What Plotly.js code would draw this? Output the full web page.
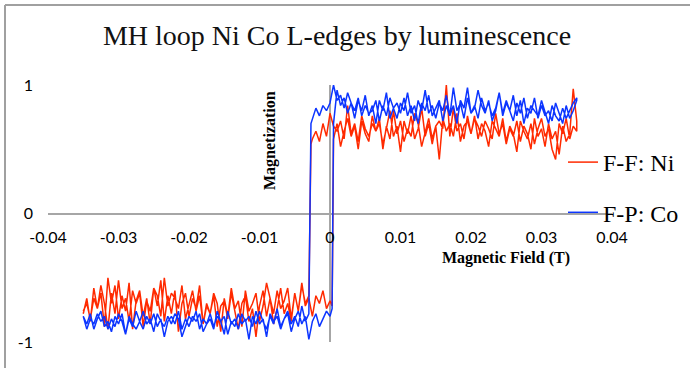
<!DOCTYPE html>
<html>
<head>
<meta charset="utf-8">
<script src="https://cdn.plot.ly/plotly-3.0.1.min.js"></script>
<style>html,body{margin:0;padding:0;background:#fff;}#chart{width:690px;height:368px;}</style>
</head>
<body>
<div id="chart"></div>
<script>
// Magnetic field sweep (T): increasing sweep, then decreasing sweep
var fieldUp = [
-0.035,-0.0345,-0.034,-0.0335,-0.033,-0.0325,-0.032,-0.0315,-0.031,-0.0305,
-0.03,-0.0295,-0.029,-0.0285,-0.028,-0.0275,-0.027,-0.0265,-0.026,-0.0255,
-0.025,-0.0245,-0.024,-0.0235,-0.023,-0.0225,-0.022,-0.0215,-0.021,-0.0205,
-0.02,-0.0195,-0.019,-0.0185,-0.018,-0.0175,-0.017,-0.0165,-0.016,-0.0155,
-0.015,-0.0145,-0.014,-0.0135,-0.013,-0.0125,-0.012,-0.0115,-0.011,-0.0105,
-0.01,-0.0095,-0.009,-0.0085,-0.008,-0.0075,-0.007,-0.0065,-0.006,-0.0055,
-0.005,-0.0045,-0.004,-0.0035,-0.003,-0.0025,-0.002,-0.0015,-0.001,-0.0005,
0,0.0003,
0.0005,0.001,0.0015,0.002,0.0025,0.003,0.0035,0.004,0.0045,0.005,
0.0055,0.006,0.0065,0.007,0.0075,0.008,0.0085,0.009,0.0095,0.01,
0.0105,0.011,0.0115,0.012,0.0125,0.013,0.0135,0.014,0.0145,0.015,
0.0155,0.016,0.0165,0.017,0.0175,0.018,0.0185,0.019,0.0195,0.02,
0.0205,0.021,0.0215,0.022,0.0225,0.023,0.0235,0.024,0.0245,0.025,
0.0255,0.026,0.0265,0.027,0.0275,0.028,0.0285,0.029,0.0295,0.03,
0.0305,0.031,0.0315,0.032,0.0325,0.033,0.0335,0.034,0.0345,0.035
];
var fieldDown = [
0.035,0.0345,0.034,0.0335,0.033,0.0325,0.032,0.0315,0.031,0.0305,
0.03,0.0295,0.029,0.0285,0.028,0.0275,0.027,0.0265,0.026,0.0255,
0.025,0.0245,0.024,0.0235,0.023,0.0225,0.022,0.0215,0.021,0.0205,
0.02,0.0195,0.019,0.0185,0.018,0.0175,0.017,0.0165,0.016,0.0155,
0.015,0.0145,0.014,0.0135,0.013,0.0125,0.012,0.0115,0.011,0.0105,
0.01,0.0095,0.009,0.0085,0.008,0.0075,0.007,0.0065,0.006,0.0055,
0.005,0.0045,0.004,0.0035,0.003,0.0025,0.002,0.0015,0.001,0.0005,
0,-0.0005,-0.001,-0.0015,-0.002,-0.0025,-0.0027,
-0.003,-0.0035,-0.004,-0.0045,-0.005,-0.0055,-0.006,-0.0065,-0.007,-0.0075,
-0.008,-0.0085,-0.009,-0.0095,-0.01,-0.0105,-0.011,-0.0115,-0.012,-0.0125,
-0.013,-0.0135,-0.014,-0.0145,-0.015,-0.0155,-0.016,-0.0165,-0.017,-0.0175,
-0.018,-0.0185,-0.019,-0.0195,-0.02,-0.0205,-0.021,-0.0215,-0.022,-0.0225,
-0.023,-0.0235,-0.024,-0.0245,-0.025,-0.0255,-0.026,-0.0265,-0.027,-0.0275,
-0.028,-0.0285,-0.029,-0.0295,-0.03,-0.0305,-0.031,-0.0315,-0.032,-0.0325,
-0.033,-0.0335,-0.034,-0.0345,-0.035
];

// F-F: Ni magnetization
var niUp = [
-0.78,-0.66,-0.84,-0.58,-0.74,-0.62,-0.88,-0.50,-0.70,-0.56,
-0.82,-0.64,-0.76,-0.54,-0.90,-0.68,-0.60,-0.80,-0.66,-0.86,
-0.58,-0.72,-0.52,-0.84,-0.64,-0.78,-0.60,-0.92,-0.70,-0.62,
-0.80,-0.66,-0.74,-0.56,-0.86,-0.70,-0.78,-0.64,-0.88,-0.72,
-0.68,-0.82,-0.62,-0.76,-0.90,-0.70,-0.64,-0.84,-0.74,-0.96,
-0.72,-0.60,-0.80,-0.66,-0.86,-0.74,-0.58,-0.78,-0.70,-0.84,
-0.62,-0.76,-0.54,-0.72,-0.66,-0.80,-0.64,-0.70,-0.60,-0.74,
-0.68,-0.72,
0.58,0.70,0.52,0.64,0.74,0.60,0.68,0.50,0.72,0.62,
0.56,0.76,0.64,0.70,0.54,0.66,0.80,0.60,0.68,0.48,
0.72,0.62,0.76,0.58,0.66,0.82,0.60,0.70,0.54,0.68,
0.42,0.74,0.64,0.70,0.60,0.78,0.56,0.68,0.72,0.62,
0.76,0.58,0.70,0.64,0.52,0.72,0.66,0.60,0.74,0.56,
0.68,0.62,0.48,0.72,0.64,0.58,0.70,0.54,0.66,0.74,
0.60,0.66,0.50,0.42,0.70,0.62,0.74,0.58,0.68,0.64
];
var niDown = [
0.72,0.97,0.62,0.56,0.68,0.46,0.64,0.58,0.70,0.52,
0.66,0.60,0.74,0.50,0.62,0.68,0.56,0.72,0.60,0.66,
0.54,0.70,0.62,0.78,0.58,0.66,0.72,0.60,0.68,0.74,
0.62,0.76,0.58,0.70,0.64,0.82,0.60,1.00,0.66,0.72,
0.68,0.58,0.74,0.64,0.52,0.70,0.78,0.60,0.66,0.56,
0.72,0.62,0.80,0.58,0.68,0.50,0.74,0.64,0.70,0.60,
0.66,0.76,0.56,0.70,0.62,0.84,0.58,0.72,0.64,0.68,
0.78,0.60,0.70,0.56,0.64,0.58,0.54,
-0.64,-0.70,-0.56,-0.76,-0.62,-0.82,-0.58,-0.68,-0.74,-0.60,
-0.78,-0.66,-0.54,-0.72,-0.84,-0.62,-0.70,-0.76,-0.60,-0.88,
-0.68,-0.74,-0.58,-0.80,-0.66,-0.92,-0.70,-0.62,-0.78,-0.72,
-0.86,-0.64,-0.76,-0.60,-0.70,-0.82,-0.56,-0.74,-0.66,-0.62,
-0.72,-0.50,-0.80,-0.64,-0.58,-0.76,-0.68,-0.88,-0.62,-0.70,
-0.60,-0.84,-0.66,-0.74,-0.52,-0.78,-0.62,-0.90,-0.70,-0.56,
-0.74,-0.66,-0.82,-0.70,-0.76
];

// F-P: Co magnetization
var coUp = [
-0.80,-0.86,-0.78,-0.90,-0.82,-0.76,-0.88,-0.84,-0.92,-0.80,
-0.86,-0.78,-0.94,-0.82,-0.88,-0.76,-0.84,-0.90,-0.80,-0.86,
-0.78,-0.88,-0.82,-0.96,-0.84,-0.80,-0.86,-0.76,-0.90,-0.82,
-0.88,-0.80,-0.84,-0.78,-0.92,-0.86,-0.82,-0.90,-0.76,-0.84,
-0.80,-0.94,-0.84,-0.88,-0.78,-0.86,-0.82,-0.98,-0.80,-0.86,
-0.76,-0.84,-0.90,-0.80,-0.86,-0.74,-0.88,-0.82,-0.78,-0.92,
-0.82,-0.76,-0.86,-0.80,-0.98,-0.84,-0.78,-0.88,-0.82,-0.76,
-0.80,-0.74,
0.70,0.96,0.84,0.90,0.78,0.86,0.74,0.88,0.80,0.92,
0.76,0.84,0.70,0.88,0.80,0.94,0.74,0.82,0.86,0.78,
0.90,0.76,0.84,0.72,0.88,0.80,0.96,0.78,0.84,0.74,
0.86,0.80,0.92,0.76,0.84,0.70,0.88,0.82,0.98,0.78,
0.84,0.74,0.90,0.80,0.86,0.76,0.82,0.94,0.78,0.88,
0.80,0.72,0.86,0.78,0.90,0.74,0.84,0.80,0.76,0.88,
0.78,0.70,0.84,0.76,0.72,0.82,0.74,0.80,0.86,0.90
];
var coDown = [
0.88,0.80,0.74,0.84,0.70,0.78,0.86,0.72,0.80,0.76,
0.84,0.74,0.90,0.78,0.82,0.70,0.88,0.76,0.92,0.80,
0.86,0.76,0.94,0.80,0.72,0.88,0.78,0.84,0.96,0.82,
0.78,0.90,0.74,0.86,0.80,0.98,0.76,0.84,0.72,0.88,
0.82,0.76,0.92,0.80,0.86,0.70,0.84,0.78,0.94,0.80,
0.86,0.74,0.82,0.90,0.76,0.84,0.72,0.88,0.80,0.78,
0.84,0.76,0.90,0.80,0.86,0.94,0.82,0.92,0.88,1.00,
0.86,0.80,0.84,0.76,0.82,0.74,0.70,
-0.78,-0.84,-0.72,-0.88,-0.80,-0.86,-0.76,-0.82,-0.90,-0.80,
-0.84,-0.78,-0.96,-0.82,-0.86,-0.76,-0.88,-0.80,-0.84,-0.78,
-0.90,-0.82,-0.86,-0.76,-0.94,-0.84,-0.80,-0.88,-0.78,-0.86,
-0.82,-0.90,-0.76,-0.84,-0.80,-0.88,-0.96,-0.82,-0.78,-0.86,
-0.80,-0.88,-0.84,-0.78,-0.92,-0.82,-0.86,-0.76,-0.84,-0.90,
-0.86,-0.80,-0.94,-0.84,-0.78,-0.88,-0.82,-0.90,-0.80,-0.84,
-0.78,-0.86,-0.82,-0.90,-0.80
];

var seriesNames = ['F-F: Ni', 'F-P: Co'];
var xTickVals = [-0.04,-0.03,-0.02,-0.01,0,0.01,0.02,0.03,0.04];
var xTickText = ['-0.04','-0.03','-0.02','-0.01','0','0.01','0.02','0.03','0.04'];
var yTickVals = [-1,0,1];
var yTickText = ['-1','0','1'];

if (niUp.length !== fieldUp.length || coUp.length !== fieldUp.length ||
    niDown.length !== fieldDown.length || coDown.length !== fieldDown.length) {
  throw new Error('length mismatch ' + [fieldUp.length, niUp.length, coUp.length, fieldDown.length, niDown.length, coDown.length].join(','));
}

var traces = [
  {x: fieldUp.concat(fieldDown), y: niUp.concat(niDown), name: seriesNames[0], legendgroup: 'ni',
   type: 'scatter', mode: 'lines', line: {color: '#ff2a00', width: 1.5}},
  {x: fieldUp.concat(fieldDown), y: coUp.concat(coDown), name: seriesNames[1], legendgroup: 'co',
   type: 'scatter', mode: 'lines', line: {color: '#0c35ff', width: 1.5}}
];

// margins: plot area px x 48..612, y 85..342
function px2x(p){ return (p - 48) / 564; }
function px2y(p){ return (342 - p) / 257; }

var layout = {
  width: 690, height: 368,
  margin: {l: 48, r: 78, t: 85, b: 26, autoexpand: false},
  paper_bgcolor: '#ffffff', plot_bgcolor: '#ffffff',
  title: {text: 'MH loop Ni Co L-edges by luminescence', font: {family: 'Liberation Serif', size: 28, color: '#111'},
          xref: 'container', x: 337/690, xanchor: 'center', yref: 'container', y: 1 - 35/368, yanchor: 'middle'},
  xaxis: {range: [-0.04, 0.04], showgrid: false, zeroline: true, zerolinecolor: '#a6a6a6', zerolinewidth: 2,
          showline: false, anchor: 'free', position: 0.5, ticks: '', tickvals: xTickVals, ticktext: xTickText,
          tickfont: {family: 'Lato', size: 16, color: '#000'}, ticklabelstandoff: 12, automargin: false},
  yaxis: {range: [-1, 1], showgrid: false, zeroline: true, zerolinecolor: '#a6a6a6', zerolinewidth: 2,
          showline: false, ticks: '', tickvals: yTickVals, ticktext: yTickText,
          tickfont: {family: 'Lato', size: 16, color: '#000'}, ticklabelstandoff: 14, automargin: false},
  showlegend: true,
  legend: {xref: 'container', yref: 'container', x: 563/690, xanchor: 'left', y: 1 - 140/368, yanchor: 'top',
           traceorder: 'grouped', tracegroupgap: 16,
           font: {family: 'Liberation Serif', size: 24, color: '#000'}, bgcolor: 'rgba(0,0,0,0)'},
  annotations: [
    {text: '<b>Magnetic Field (T)</b>', xref: 'paper', yref: 'paper', x: px2x(506), y: px2y(258),
     xanchor: 'center', yanchor: 'middle', showarrow: false, font: {family: 'Liberation Serif', size: 16, color: '#000'}},
    {text: '<b>Magnetization</b>', xref: 'paper', yref: 'paper', x: px2x(270), y: px2y(141), textangle: -90,
     xanchor: 'center', yanchor: 'middle', showarrow: false, font: {family: 'Liberation Serif', size: 16, color: '#000'}}
  ],
  shapes: [
    {type: 'line', xref: 'paper', yref: 'paper', x0: px2x(5), x1: px2x(5), y0: px2y(5), y1: px2y(372), line: {color: '#a0a0a0', width: 2}},
    {type: 'line', xref: 'paper', yref: 'paper', x0: px2x(5), x1: px2x(695), y0: px2y(5), y1: px2y(5), line: {color: '#a0a0a0', width: 2}}
  ],
  hovermode: false
};

Plotly.newPlot('chart', traces, layout, {staticPlot: true, displayModeBar: false});
</script>
</body>
</html>
